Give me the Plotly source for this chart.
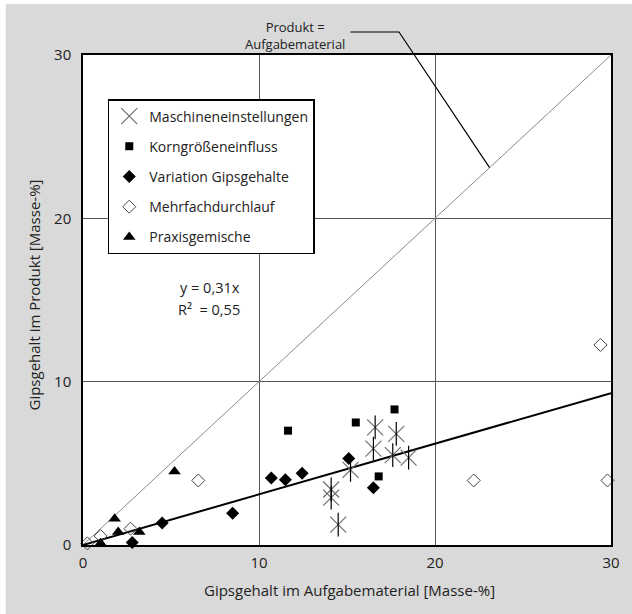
import plotly.graph_objects as go

# ---- data ----
masch_x = [16.6, 17.8, 16.5, 17.6, 18.5, 15.2, 14.1, 14.1, 14.5]
masch_y = [7.2, 6.8, 5.9, 5.5, 5.35, 4.6, 3.4, 2.9, 1.25]

korn_x = [11.65, 15.5, 17.7, 16.8]
korn_y = [7.0, 7.5, 8.3, 4.2]

var_x = [4.5, 2.8, 8.5, 10.7, 11.5, 12.45, 15.1, 16.5]
var_y = [1.35, 0.15, 1.95, 4.1, 4.0, 4.4, 5.3, 3.5]

mehr_x = [0.25, 1.0, 2.7, 6.55, 22.2, 29.4, 29.8]
mehr_y = [0.1, 0.55, 1.0, 3.95, 3.95, 12.25, 3.95]

praxis_x = [1.0, 1.8, 2.0, 3.2, 5.2]
praxis_y = [0.1, 1.6, 0.8, 0.8, 4.5]

slope = 0.31
line_x = [0, 30]
axis_max = 30
leader_end = 23.1   # point on the y = x line where the label leader ends

tick_vals = [0, 10, 20, 30]
tick_text = ["0", "10", "20", "30"]

FONT = "Open Sans"
TXT = "#222222"

fig = go.Figure()

# y = x line
fig.add_trace(go.Scatter(x=line_x, y=line_x, mode="lines",
                         line=dict(color="#8a8a8a", width=1),
                         showlegend=False, hoverinfo="skip"))
# regression line
fig.add_trace(go.Scatter(x=line_x, y=[slope * v for v in line_x], mode="lines",
                         line=dict(color="black", width=2),
                         showlegend=False, hoverinfo="skip"))

fig.add_trace(go.Scatter(x=masch_x, y=masch_y, mode="markers", name="Maschineneinstellungen",
                         legendgroup="a", cliponaxis=False,
                         marker=dict(symbol="x-thin-open", size=16, color="#6e6e6e",
                                     line=dict(color="#6e6e6e", width=1.2))))
fig.add_trace(go.Scatter(x=masch_x, y=masch_y, mode="markers", showlegend=False,
                         legendgroup="a", cliponaxis=False,
                         marker=dict(symbol="line-ns-open", size=17, color="black",
                                     line=dict(color="black", width=1.2))))
fig.add_trace(go.Scatter(x=korn_x, y=korn_y, mode="markers", name="Korngrößeneinfluss",
                         legendgroup="b", cliponaxis=False,
                         marker=dict(symbol="square", size=8, color="black")))
fig.add_trace(go.Scatter(x=var_x, y=var_y, mode="markers", name="Variation Gipsgehalte",
                         legendgroup="c", cliponaxis=False,
                         marker=dict(symbol="diamond", size=10, color="black")))
fig.add_trace(go.Scatter(x=mehr_x, y=mehr_y, mode="markers", name="Mehrfachdurchlauf",
                         legendgroup="d", cliponaxis=False,
                         marker=dict(symbol="diamond-open", size=10, color="#444444",
                                     line=dict(color="#444444", width=1))))
fig.add_trace(go.Scatter(x=praxis_x, y=praxis_y, mode="markers", name="Praxisgemische",
                         legendgroup="e", cliponaxis=False,
                         marker=dict(symbol="triangle-up", size=11, color="black")))

axis_common = dict(range=[0, axis_max], tickvals=tick_vals, ticktext=tick_text,
                   showgrid=True, gridcolor="#555555", gridwidth=1,
                   showline=True, linecolor="black", linewidth=1.5, mirror=True,
                   zeroline=False, tickfont=dict(family=FONT, size=15, color=TXT))
fig.update_xaxes(**axis_common, ticklabelstandoff=3)
fig.update_yaxes(**axis_common, ticklabelstandoff=7)

annos = [
    dict(text="Gipsgehalt im Aufgabematerial [Masse-%]", x=0.505, y=-0.0918,
         xanchor="center", yanchor="middle", font=dict(size=15)),
    dict(text="Gipsgehalt im Produkt [Masse-%]", x=-0.092, y=0.51, textangle=-90,
         xanchor="center", yanchor="middle", font=dict(size=15)),
    dict(text="y = 0,31x", x=0.3002, y=0.5265, xanchor="right", yanchor="middle",
         font=dict(size=14.5)),
    dict(text="R²\u00a0\u00a0= 0,55", x=0.3002, y=0.4816, xanchor="right", yanchor="middle",
         font=dict(size=14.5)),
    dict(text="Produkt =<br>Aufgabematerial", x=(297 - 83) / 533, y=(545 - 36) / 490,
         xanchor="center", yanchor="middle", align="center", font=dict(size=13)),
]
for a in annos:
    a.update(xref="paper", yref="paper", showarrow=False)
    a["font"].update(family=FONT, color=TXT)

e = leader_end / axis_max
shapes = [
    dict(type="path", xref="paper", yref="paper",
         path=f"M 0.5066 1.0469 L 0.5985 1.0469 L {e} {e}",
         line=dict(color="black", width=1.2)),
    # white strips at the top and left edge of the picture
    dict(type="rect", xref="paper", yref="paper", x0=-0.2, x1=1.1, y0=1.1041, y1=1.13,
         line=dict(width=0), fillcolor="white", layer="above"),
    dict(type="rect", xref="paper", yref="paper", x0=-0.2, x1=-0.1463, y0=-0.2, y1=1.13,
         line=dict(width=0), fillcolor="white", layer="above"),
]

fig.update_layout(
    width=632, height=614,
    margin=dict(l=83, r=16, t=55, b=69),
    paper_bgcolor="#d9d9d9", plot_bgcolor="white",
    font=dict(family=FONT, size=14, color=TXT),
    annotations=annos, shapes=shapes,
    legend=dict(x=(108 - 83) / 533, y=(545 - 99) / 490, xanchor="left", yanchor="top",
                bgcolor="white", bordercolor="black", borderwidth=1.5,
                font=dict(family=FONT, size=14, color=TXT),
                tracegroupgap=9, itemsizing="trace"),
    showlegend=True,
)

fig.write_html("out.html")
